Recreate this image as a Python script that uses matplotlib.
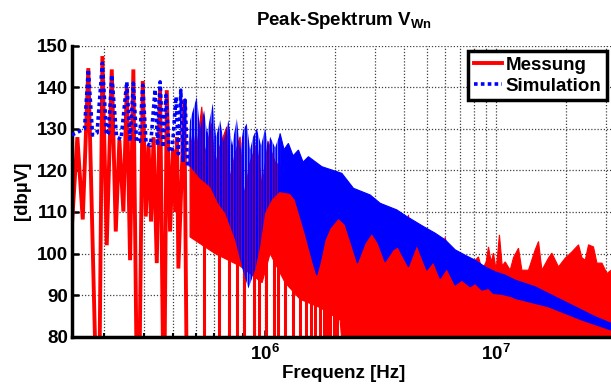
import numpy as np
import matplotlib
matplotlib.use('Agg')
import matplotlib.pyplot as plt
from matplotlib.ticker import LogLocator, NullFormatter, FixedLocator, FixedFormatter

plt.rcParams['font.family'] = ['Liberation Sans', 'DejaVu Sans']
plt.rcParams['font.weight'] = 'bold'
plt.rcParams['font.size'] = 13.5
plt.rcParams['mathtext.fontset'] = 'custom'
plt.rcParams['mathtext.rm'] = 'Liberation Sans:bold'
plt.rcParams['mathtext.bf'] = 'Liberation Sans:bold'
plt.rcParams['mathtext.it'] = 'Liberation Sans:bold'
plt.rcParams['hatch.linewidth'] = 1.6

# ---------------- data ----------------
# Messung: individually resolved harmonics (low frequencies)
meas_f = [1.456e5, 1.54e5, 1.625e5, 1.718e5, 1.846e5, 1.921e5, 1.976e5, 2.064e5,
          2.170e5, 2.258e5, 2.341e5, 2.436e5, 2.520e5, 2.604e5, 2.691e5, 2.778e5,
          2.862e5, 2.955e5, 3.045e5, 3.131e5, 3.210e5, 3.291e5, 3.398e5, 3.512e5,
          3.618e5, 3.672e5, 3.754e5, 3.879e5, 3.997e5, 4.098e5, 4.159e5, 4.214e5,
          4.473e5, 4.573e5, 4.688e5]
meas_db = [106, 128, 108.2, 144.6, 74, 74, 147.5, 102,
           144.3, 105.3, 127.3, 110.1, 140, 98.4, 144.3, 74,
           74, 141.5, 108.9, 126, 107.7, 128, 97.7, 140,
           74, 74, 139.3, 105.3, 125, 110, 128, 96.4,
           137.1, 74, 74]

# Messung: dense region, upper envelope
meas_top_f = [4.734e5, 4.88e5, 5.028e5, 5.321e5, 5.499e5, 5.878e5, 6.074e5, 6.386e5,
              6.827e5, 7.055e5, 7.415e5, 7.795e5, 8.112e5, 8.611e5, 9.205e5, 9.706e5,
              1.030e6, 1.105e6, 1.221e6, 1.418e6, 1.730e6, 2.220e6, 3.147e6, 4.078e6,
              4.172e6, 4.244e6, 5.180e6, 5.897e6, 6.016e6, 6.136e6, 7.716e6, 8.38e6,
              8.70e6, 9.05e6, 9.262e6, 9.515e6, 9.734e6, 1.0e7, 1.033e7, 1.062e7,
              1.094e7, 1.150e7, 1.188e7, 1.249e7, 1.292e7, 1.380e7, 1.475e7, 1.525e7,
              1.577e7, 1.684e7, 1.742e7, 1.861e7, 1.990e7, 2.127e7, 2.272e7, 2.350e7,
              2.429e7, 2.510e7, 2.637e7, 2.729e7, 2.869e7, 3.015e7, 3.146e7, 3.3e7]
meas_top_db = [125, 129, 124, 135.3, 124, 131.3, 121, 126,
               130.5, 118, 124, 128.1, 114, 122, 126.5, 116,
               127, 122, 120, 118, 115, 110, 106, 104,
               109.3, 104, 102, 101, 103.9, 101, 97, 99.2,
               96, 98, 101.6, 98, 100.1, 96, 104.5, 97,
               98, 96, 99, 101.3, 96, 96, 100.9, 102.9,
               96, 98.9, 100.1, 96.8, 98.9, 100.4, 102.1, 99,
               98.4, 102.1, 101.6, 97.7, 97.7, 95.2, 96, 96]
# Messung: dense region, lower envelope
meas_low_f = [4.734e5, 6.074e5, 7.795e5, 9.706e5, 1.051e6, 1.221e6, 1.418e6,
              1.730e6, 2.112e6, 2.176e6, 3.3e7]
meas_low_db = [104, 100, 97, 93, 100, 93, 89, 87, 84, 75, 75]
# Messung: notches that reach the bottom of the plot
meas_notch_f = [5.444e5, 6.323e5, 6.950e5, 7.528e5, 8.071e5, 8.916e5, 9.373e5,
                1.005e6, 1.094e6, 1.138e6, 1.221e6, 1.322e6, 1.418e6, 1.505e6,
                1.582e6, 1.646e6, 1.730e6, 1.792e6, 1.855e6, 1.911e6, 1.980e6, 2.050e6]

# Simulation: individually resolved harmonics
sim_f = [1.456e5, 1.582e5, 1.654e5, 1.718e5, 1.792e5, 1.874e5, 1.976e5, 2.060e5,
         2.101e5, 2.170e5, 2.276e5, 2.381e5, 2.520e5, 2.604e5, 2.691e5, 2.778e5,
         2.862e5, 2.955e5, 3.054e5, 3.194e5, 3.341e5, 3.424e5, 3.512e5, 3.618e5,
         3.727e5, 3.840e5, 3.957e5, 4.118e5, 4.214e5, 4.317e5, 4.416e5, 4.505e5, 4.618e5]
sim_db = [128.5, 129.5, 130, 144.3, 128.5, 129, 145.8, 128.5,
          129, 143, 128, 127.5, 141.3, 127, 141, 126.9,
          127, 140.5, 126.5, 126, 139.5, 126, 141.3, 125.5,
          138.1, 125, 124.5, 137.7, 124, 139.3, 122, 136.9, 121]

# Simulation: dense region, upper envelope
sim_top_f = [4.618e5, 4.734e5, 5.061e5, 5.231e5, 5.444e5, 5.609e5, 5.937e5, 6.136e5,
             6.386e5, 6.612e5, 6.936e5, 7.197e5, 7.543e5, 7.795e5, 8.032e5, 8.333e5,
             8.611e5, 8.873e5, 9.205e5, 9.609e5, 1.0e6, 1.030e6, 1.051e6, 1.105e6,
             1.161e6, 1.208e6, 1.261e6, 1.322e6, 1.394e6, 1.460e6, 1.540e6, 1.646e6,
             1.760e6, 1.944e6, 2.148e6, 2.412e6, 2.848e6, 3.147e6, 3.716e6, 4.106e6,
             4.845e6, 5.445e6, 6.016e6, 6.645e6, 7.340e6, 8.110e6, 8.960e6, 9.90e6,
             1.094e7, 1.209e7, 1.475e7, 1.800e7, 2.198e7, 2.683e7, 3.146e7, 3.3e7]
sim_top_db = [121, 132, 137.7, 130, 134.5, 129, 136.1, 128,
              132.1, 127, 132.1, 126, 132.5, 125, 129.7, 131.3,
              125, 128.1, 130.1, 126, 130.1, 126, 128.1, 125.5,
              128.9, 125, 126.5, 123.5, 124.9, 122, 123.3, 122.1,
              120.9, 120.1, 119.3, 115.7, 114.1, 112.1, 110.5, 108.9,
              106.5, 104.9, 103.3, 100.9, 99.6, 98.4, 96.8, 95.6,
              94.8, 93.6, 92.0, 89.6, 87.2, 84.8, 83.2, 82.6]
# Simulation: dense region, lower envelope
sim_low_f = [4.618e5, 4.734e5, 5.231e5, 5.779e5, 6.260e5, 6.712e5, 7.415e5, 7.929e5,
             8.466e5, 9.051e5, 9.514e5, 1.0e6, 1.072e6, 1.161e6, 1.283e6, 1.349e6,
             1.490e6, 1.614e6, 1.674e6, 1.730e6, 1.818e6, 1.911e6, 2.076e6, 2.220e6,
             2.333e6, 2.510e6, 2.710e6, 2.897e6, 3.085e6, 3.307e6, 3.583e6, 3.765e6,
             3.879e6, 4.172e6, 4.537e6, 5.012e6, 5.354e6, 5.723e6, 6.118e6, 6.645e6,
             7.102e6, 7.716e6, 8.110e6, 8.670e6, 9.262e6, 9.734e6, 1.059e7, 1.169e7,
             1.209e7, 1.684e7, 2.350e7, 3.146e7, 3.3e7]
sim_low_db = [121, 120.9, 118, 116, 112, 109.7, 103.3, 96.8,
              91.6, 96, 101.6, 109.7, 113, 114.9, 114.5, 113,
              104.9, 97.7, 94.8, 97.7, 103.3, 106.1, 108.5, 107,
              103.3, 97.7, 102.5, 104.9, 102.5, 98.0, 100.9, 101.6,
              100.1, 96.8, 102.1, 96.0, 98.0, 94.0, 96.4, 92.4,
              93.6, 92.0, 92.8, 91.2, 91.6, 90.4, 90.2, 89.6,
              89.2, 87.2, 84.0, 81.6, 81.2]
# frequency where the simulated dots merge into a solid band
sim_solid_from = 1.161e6

y_ticks = [80, 90, 100, 110, 120, 130, 140, 150]
x_ticks = [1e6, 1e7]
x_ticklabels = [r'$\mathbf{10^{6}}$', r'$\mathbf{10^{7}}$']
labels = ['Messung', 'Simulation']

# ---------------- figure ----------------
W, H = 611, 387
fig = plt.figure(figsize=(W / 100, H / 100), dpi=100)
ax = fig.add_axes([72 / W, 50.3 / H, 544 / W, 291 / H])
ax.set_xscale('log')
ax.set_xlim(1.46e5, 3.3e7)
ax.set_ylim(80, 150)

RED = '#ff0000'
BLUE = '#0000ff'

# Messung
l_meas, = ax.plot(meas_f, meas_db, color=RED, lw=2.8, solid_joinstyle='miter', zorder=2)
ax.vlines(meas_notch_f, 75, 104, color=RED, lw=2.2, zorder=2)
ax.fill(list(meas_top_f) + list(meas_low_f[::-1]),
        list(meas_top_db) + list(meas_low_db[::-1]),
        color=RED, lw=0.8, zorder=2)

# Simulation: split envelope into the dotted-texture part and the solid part
stf, std = np.array(sim_top_f), np.array(sim_top_db)
slf, sld = np.array(sim_low_f), np.array(sim_low_db)
mt, ml = stf <= sim_solid_from, slf <= sim_solid_from
ax.fill(np.r_[stf[mt], slf[ml][::-1]], np.r_[std[mt], sld[ml][::-1]],
        facecolor='none', edgecolor=BLUE, hatch='||||||', lw=0, zorder=3)
mt, ml = stf >= sim_solid_from, slf >= sim_solid_from
ax.fill(np.r_[stf[mt], slf[ml][::-1]], np.r_[std[mt], sld[ml][::-1]],
        color=BLUE, lw=0.8, zorder=3)
l_sim, = ax.plot(sim_f, sim_db, color=BLUE, lw=2.6, linestyle=(0, (1, 0.9)),
                 dash_capstyle='butt', zorder=3)

# grid
ax.set_axisbelow(True)
ax.xaxis.set_major_locator(FixedLocator(x_ticks))
ax.xaxis.set_major_formatter(FixedFormatter(x_ticklabels))
ax.xaxis.set_minor_locator(LogLocator(base=10, subs=np.arange(2, 10), numticks=20))
ax.xaxis.set_minor_formatter(NullFormatter())
ax.set_yticks(y_ticks)
ax.set_yticklabels([str(v) for v in y_ticks])
ax.grid(True, which='major', axis='both', color='#404040', linestyle=(0, (1, 1.5)), lw=0.9)
ax.grid(True, which='minor', axis='x', color='#404040', linestyle=(0, (1, 1.5)), lw=0.9)

for s in ['top', 'right']:
    ax.spines[s].set_visible(False)
for s in ['left', 'bottom']:
    ax.spines[s].set_linewidth(2.5)
    ax.spines[s].set_color('black')
ax.tick_params(axis='both', which='major', direction='in', length=5, width=1.8,
               labelsize=13.5, pad=3)
ax.tick_params(axis='x', which='minor', direction='in', length=3, width=1.5)
ax.tick_params(axis='x', which='major', pad=5)

ax.set_title(r'Peak-Spektrum $\mathbf{V_{Wn}}$', fontsize=13.5, fontweight='bold', pad=15)
ax.set_xlabel('Frequenz [Hz]', fontsize=13.5, fontweight='bold', labelpad=1)
ax.set_ylabel('[dbµV]', fontsize=13.5, fontweight='bold', labelpad=4)

leg = ax.legend([l_meas, l_sim], labels, loc='upper right',
                bbox_to_anchor=(607 / W, 1 - 51 / H), bbox_transform=fig.transFigure,
                borderaxespad=0, fancybox=False, framealpha=1, edgecolor='black',
                handlelength=1.5, handletextpad=0.2, borderpad=0.3, labelspacing=0.2,
                prop={'weight': 'bold', 'size': 13.5})
leg.get_frame().set_linewidth(2.5)
leg.set_zorder(10)

fig.savefig('out.png', dpi=100)
